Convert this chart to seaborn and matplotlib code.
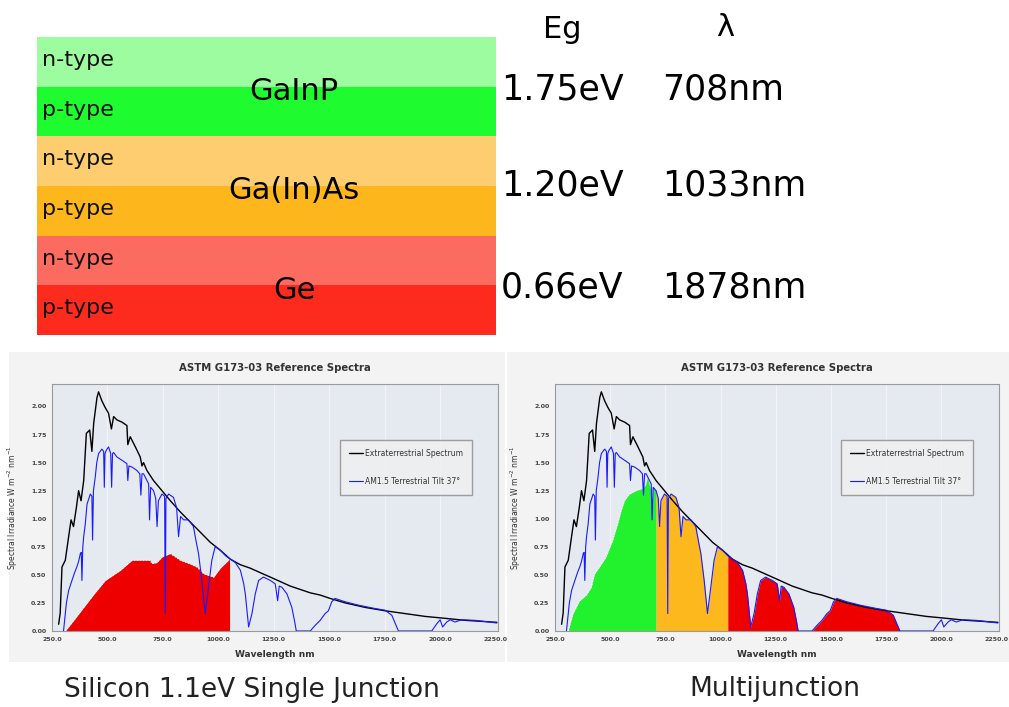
import numpy as np
import seaborn as sns
import matplotlib.pyplot as plt
from matplotlib.patches import Rectangle
from matplotlib.ticker import FixedLocator, StrMethodFormatter

# ---- cell stack (top left) ----
layers = ['n-type', 'p-type', 'n-type', 'p-type', 'n-type', 'p-type']
layer_colors = ['#9dfca0', '#1efc30', '#fdcd70', '#fdb61c', '#fb6b60', '#fc2b1e']
materials = ['GaInP', 'Ga(In)As', 'Ge']
band_gaps = ['1.75eV', '1.20eV', '0.66eV']
cutoffs = ['708nm', '1033nm', '1878nm']
cutoff_nm = [708, 1033, 1878]

# ---- ASTM G173-03 spectra ----
ext_nm = [280, 287, 295, 310, 325, 336, 347, 360, 370, 381, 393, 405, 420, 430, 438,
          453, 460, 475, 490, 505, 518, 528, 543, 566, 588, 592, 603, 626, 648, 656,
          663, 678, 708, 746, 784, 829, 874, 919, 964, 1009, 1054, 1100, 1144, 1189,
          1235, 1280, 1325, 1370, 1415, 1460, 1505, 1573, 1663, 1753, 1843, 1933,
          2023, 2113, 2203, 2257]
ext_val = [0.06, 0.16, 0.57, 0.63, 0.84, 0.99, 0.93, 1.10, 1.25, 1.16, 1.34, 1.76, 1.79,
           1.60, 1.85, 2.08, 2.13, 2.05, 1.99, 1.94, 1.80, 1.91, 1.88, 1.86, 1.83, 1.66,
           1.73, 1.64, 1.55, 1.47, 1.50, 1.43, 1.34, 1.25, 1.16, 1.06, 0.97, 0.88, 0.79,
           0.72, 0.64, 0.59, 0.56, 0.52, 0.48, 0.44, 0.40, 0.37, 0.34, 0.32, 0.29, 0.25,
           0.21, 0.18, 0.155, 0.13, 0.113, 0.095, 0.084, 0.077]

am_nm = [302, 315, 325, 340, 352, 362, 370, 378, 382, 385, 389, 393, 400, 408, 423, 430,
         433, 437, 445, 452, 460, 475, 483, 486, 489, 495, 505, 515, 519, 523, 528, 543,
         566, 588, 592, 597, 611, 633, 646, 651, 656, 663, 686, 690, 695, 708, 718, 724,
         730, 746, 758, 761, 764, 776, 798, 812, 821, 830, 844, 866, 888, 900, 911, 926,
         941, 956, 971, 986, 1009, 1033, 1077, 1100, 1115, 1122, 1137, 1152, 1167, 1182,
         1204, 1235, 1257, 1268, 1275, 1287, 1310, 1332, 1345, 1352, 1415, 1437, 1460,
         1482, 1497, 1512, 1527, 1573, 1633, 1708, 1753, 1783, 1800, 1813, 1878, 1963,
         1986, 2001, 2012, 2031, 2046, 2068, 2099, 2159, 2257]
am_val = [0.0, 0.25, 0.36, 0.45, 0.52, 0.57, 0.62, 0.69, 0.70, 0.45, 0.75, 0.84, 0.95,
          1.13, 1.22, 1.20, 0.81, 1.25, 1.37, 1.50, 1.58, 1.62, 1.60, 1.28, 1.58, 1.61,
          1.64, 1.58, 1.28, 1.58, 1.59, 1.55, 1.52, 1.49, 1.34, 1.47, 1.46, 1.43, 1.40,
          1.21, 1.40, 1.40, 1.31, 0.99, 1.28, 1.25, 1.18, 0.93, 1.16, 1.22, 1.20, 0.155,
          1.18, 1.22, 1.19, 1.10, 0.84, 1.02, 0.99, 0.99, 0.93, 0.80, 0.69, 0.45, 0.155,
          0.39, 0.63, 0.75, 0.72, 0.67, 0.61, 0.54, 0.42, 0.33, 0.036, 0.155, 0.33, 0.45,
          0.48, 0.45, 0.42, 0.27, 0.40, 0.39, 0.33, 0.21, 0.08, 0.0, 0.0, 0.05, 0.095,
          0.155, 0.18, 0.26, 0.29, 0.26, 0.23, 0.20, 0.185, 0.14, 0.06, 0.0, 0.0, 0.0,
          0.065, 0.10, 0.036, 0.08, 0.10, 0.08, 0.10, 0.095, 0.071]

# silicon cell usable part (left chart)
si_nm = [310, 350, 393, 440, 490, 558, 611, 650, 693, 700, 723, 746, 784, 829, 870, 904,
         934, 979, 1009, 1051]
si_val = [0.0, 0.10, 0.21, 0.33, 0.45, 0.54, 0.63, 0.63, 0.63, 0.60, 0.61, 0.66, 0.69,
          0.63, 0.60, 0.57, 0.51, 0.48, 0.56, 0.64]

# GaInP top cell usable part (right chart)
gr_nm = [309, 331, 361, 391, 414, 429, 451, 481, 511, 534, 549, 564, 587, 616, 646, 660,
         669, 684, 690, 695, 708]
gr_val = [0.0, 0.155, 0.27, 0.32, 0.39, 0.51, 0.57, 0.66, 0.81, 0.96, 1.07, 1.16, 1.22,
          1.25, 1.27, 1.30, 1.37, 1.25, 0.99, 1.28, 1.25]

x_ticks = [250, 500, 750, 1000, 1250, 1500, 1750, 2000, 2250]
y_ticks = [0.0, 0.25, 0.5, 0.75, 1.0, 1.25, 1.5, 1.75, 2.0]

fill_red = '#ee0000'
fill_green = '#22f22e'
fill_orange = '#fdb81e'

sns.set_style('white')
plt.rcParams['font.family'] = ['DejaVu Sans']

W, H = 1009, 707
fig = plt.figure(figsize=(W / 100, H / 100), dpi=100)


def fx(px):
    return px / W


def fy(py):
    return 1 - py / H


# ---------- stack ----------
ax_s = fig.add_axes([fx(37), fy(335), fx(459), 298 / H])
pos = np.arange(len(layers))
ax_s.barh(pos, [1] * len(layers), height=1.0, color=layer_colors, left=0,
          edgecolor='none', linewidth=0)
ax_s.set_xlim(0, 1)
ax_s.set_ylim(len(layers) - 0.5, -0.5)
ax_s.axis('off')
for i, lab in enumerate(layers):
    ax_s.text(0.011, i - 0.04, lab, ha='left', va='center', fontsize=16, color='#111')
for k, mat in enumerate(materials):
    ax_s.text(0.56, 2 * k + 0.6, mat, ha='center', va='center', fontsize=22,
              color='black', fontweight='medium')

# ---------- Eg / lambda table ----------
fig.text(fx(562), fy(29), 'Eg', ha='center', va='center', fontsize=22, color='black')
fig.text(fx(725), fy(28), 'λ', ha='center', va='center', fontsize=22, color='black')
for k in range(len(band_gaps)):
    row_y = [90, 185, 287][k]
    fig.text(fx(501), fy(row_y), band_gaps[k], ha='left', va='center', fontsize=25,
             color='black')
    fig.text(fx(662), fy(row_y), cutoffs[k], ha='left', va='center', fontsize=25,
             color='black')

# ---------- panel backgrounds ----------
fig.patches.append(Rectangle((fx(9), fy(662)), fx(496), 310 / H, transform=fig.transFigure,
                             facecolor='#f3f3f3', edgecolor='none', zorder=-5))
fig.patches.append(Rectangle((fx(507), fy(662)), fx(502), 310 / H, transform=fig.transFigure,
                             facecolor='#f3f3f3', edgecolor='none', zorder=-5))


def spectrum_axes(left_px, width_px):
    ax = fig.add_axes([fx(left_px), fy(631), fx(width_px), 247 / H])
    ax.set_facecolor('#e5eaf1')
    for x in x_ticks[1:-1]:
        ax.axvline(x, color='#f2f4f8', lw=0.8, zorder=0)
    sns.lineplot(x=ext_nm, y=ext_val, ax=ax, color='black', lw=1.0, estimator=None,
                 sort=False, label='Extraterrestrial Spectrum', zorder=4)
    sns.lineplot(x=am_nm, y=am_val, ax=ax, color='#1a1aff', lw=0.8, estimator=None,
                 sort=False, label='AM1.5 Terrestrial Tilt 37°', zorder=5)
    ax.set_xlim(250, 2262)
    ax.set_ylim(0, 2.2)
    ax.xaxis.set_major_locator(FixedLocator(x_ticks))
    ax.yaxis.set_major_locator(FixedLocator(y_ticks))
    ax.xaxis.set_major_formatter(StrMethodFormatter('{x:.1f}'))
    ax.yaxis.set_major_formatter(StrMethodFormatter('{x:.2f}'))
    ax.tick_params(axis='both', labelsize=4.5, colors='#444', length=2, width=0.6, pad=2)
    for t in ax.get_xticklabels() + ax.get_yticklabels():
        t.set_fontweight('bold')
    for sp in ax.spines.values():
        sp.set_color('#9a9a9a')
        sp.set_linewidth(0.8)
    ax.set_title('ASTM G173-03 Reference Spectra', fontsize=7.3, fontweight='bold',
                 color='#333', pad=9)
    ax.set_xlabel('Wavelength nm', fontsize=6.5, fontweight='bold', color='#333', labelpad=6)
    ax.set_ylabel('Spectral Irradiance W m$^{-2}$ nm$^{-1}$', fontsize=5.5, color='#333',
                  labelpad=8)
    leg = ax.legend(loc='upper right', bbox_to_anchor=(0.942, 0.774), fontsize=5.5,
                    labelspacing=2.5, handlelength=1.8, handletextpad=0.3, borderpad=1.2,
                    borderaxespad=0, frameon=True, fancybox=False, facecolor='#f0f0f0',
                    edgecolor='#8a8a8a')
    leg.get_frame().set_linewidth(1.0)
    for t in leg.get_texts():
        t.set_color('#333')
    return ax


# ---------- silicon single junction ----------
ax1 = spectrum_axes(52, 446)
ax1.fill_between(si_nm, 0, si_val, color=fill_red, lw=0, zorder=2)
ax1.plot(si_nm, si_val, color='white', lw=0.8, ls=':', zorder=3)

# ---------- multijunction ----------
ax2 = spectrum_axes(555, 444)
am_x = np.array(am_nm)
am_y = np.array(am_val)
ax2.fill_between(gr_nm, 0, gr_val, color=fill_green, lw=0, zorder=2)
ax2.plot(gr_nm[:14], gr_val[:14], color='white', lw=0.8, ls=':', zorder=3)
ax2.fill_between(am_x, 0, am_y, where=(am_x >= cutoff_nm[0]) & (am_x <= cutoff_nm[1]),
                 color=fill_orange, lw=0, zorder=2)
ax2.fill_between(am_x, 0, am_y, where=(am_x >= cutoff_nm[1]) & (am_x <= cutoff_nm[2]),
                 color=fill_red, lw=0, zorder=2)

# ---------- captions ----------
fig.text(fx(252), fy(690), 'Silicon 1.1eV Single Junction', ha='center', va='center',
         fontsize=19, color='#222')
fig.text(fx(775), fy(689), 'Multijunction', ha='center', va='center', fontsize=19,
         color='#222')

fig.savefig('out.png', dpi=100)
